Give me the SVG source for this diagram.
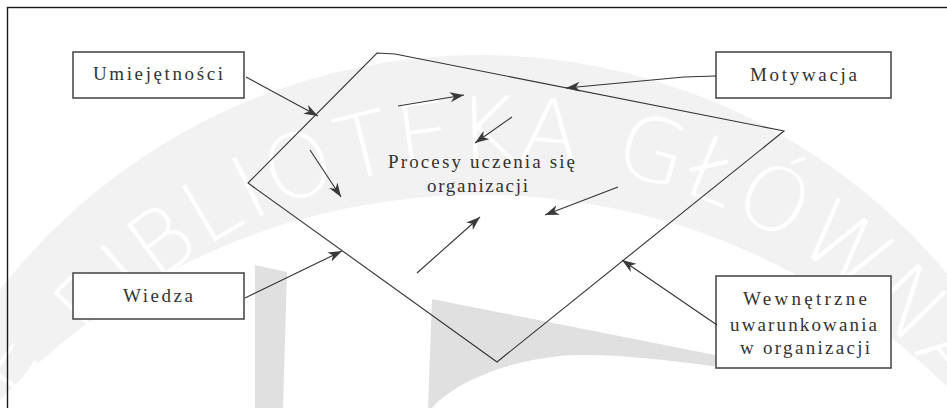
<svg xmlns="http://www.w3.org/2000/svg" width="947" height="408" viewBox="0 0 947 408">
  <defs>
    <style>
      .box { fill: #ffffff; stroke: #4d4d4d; stroke-width: 1.6; }
      .lbl { font-family: "Liberation Serif", "Times New Roman", serif; font-size: 19px; fill: #333333; text-anchor: middle; }
      .con { fill: none; stroke: #333333; stroke-width: 1.1; }
      .shape { fill: none; stroke: #333333; stroke-width: 1.1; }
      .wm { font-family: "DejaVu Sans", "Open Sans", sans-serif; font-weight: 200; font-size: 88px; fill: #ffffff; }
    </style>
    <marker id="arr" markerUnits="userSpaceOnUse" markerWidth="16" markerHeight="12" refX="14" refY="5" orient="auto">
      <path d="M0,0 L14,5 L0,10 L4,5 Z" fill="#3a3a3a"/>
    </marker>
    <path id="wmArc" d="M-40,700 A540,540 0 0 1 1040,700"/>
  </defs>

  <!-- background and watermark -->
  <rect x="0" y="0" width="947" height="408" fill="#ffffff"/>
  <g id="watermark">
    <path fill="#f2f2f2" fill-rule="evenodd" d="M-128,663 A608,608 0 1 1 1088,663 A608,608 0 1 1 -128,663 Z M-184,859 A664,664 0 1 1 1144,859 A664,664 0 1 1 -184,859 Z"/>
    <text class="wm"><textPath href="#wmArc" startOffset="296" textLength="1080" lengthAdjust="spacing">E BIBLIOTEKA GŁÓWNA</textPath></text>
    <path fill="#e0e0e0" d="M255,265 L287,272 L283,408 L255,408 Z"/>
    <path fill="#e0e0e0" d="M432,299 L730,358 L730,368 C665,360 605,352 560,356 C500,362 452,385 432,408 L428,408 Z"/>
  </g>

  <!-- outer frame -->
  <rect x="7.5" y="7.5" width="960" height="430" fill="none" stroke="#1a1a1a" stroke-width="1.4"/>

  <!-- central node -->
  <g id="node-procesy">
    <path class="shape" d="M377,53 L395,54 L784,131 L497,362 L248,183 Z"/>
    <text class="lbl" x="481.5" y="168" textLength="187" lengthAdjust="spacing">Procesy uczenia się</text>
    <text class="lbl" x="477.5" y="192" textLength="101" lengthAdjust="spacing">organizacji</text>
  </g>

  <g id="node-umiejetnosci">
    <rect class="box" x="73" y="52" width="171" height="46"/>
    <text class="lbl" x="158" y="80" textLength="130" lengthAdjust="spacing">Umiejętności</text>
  </g>

  <g id="node-motywacja">
    <rect class="box" x="716" y="52" width="175" height="46"/>
    <text class="lbl" x="803.5" y="81" textLength="107" lengthAdjust="spacing">Motywacja</text>
  </g>

  <g id="node-wiedza">
    <rect class="box" x="73" y="273" width="171" height="46"/>
    <text class="lbl" x="158" y="302" textLength="70" lengthAdjust="spacing">Wiedza</text>
  </g>

  <g id="node-wewnetrzne">
    <rect class="box" x="716" y="276" width="175" height="92"/>
    <text class="lbl" x="805" y="305" textLength="124" lengthAdjust="spacing">Wewnętrzne</text>
    <text class="lbl" x="803.5" y="331" textLength="147" lengthAdjust="spacing">uwarunkowania</text>
    <text class="lbl" x="805" y="354" textLength="130" lengthAdjust="spacing">w organizacji</text>
  </g>

  <g id="connectors">
    <path class="con" marker-end="url(#arr)" d="M246,77 L318,116"/>
    <path class="con" marker-end="url(#arr)" d="M716,76 L684,77 L566,88"/>
    <path class="con" marker-end="url(#arr)" d="M245,298 L342,251"/>
    <path class="con" marker-end="url(#arr)" d="M717,325 L622,260"/>
    <path class="con" marker-end="url(#arr)" d="M398,106 L464,95"/>
    <path class="con" marker-end="url(#arr)" d="M512,117 L475,143"/>
    <path class="con" marker-end="url(#arr)" d="M310,150 L341,197"/>
    <path class="con" marker-end="url(#arr)" d="M618,187 L545,215"/>
    <path class="con" marker-end="url(#arr)" d="M417,273 L480,217"/>
  </g>
</svg>
